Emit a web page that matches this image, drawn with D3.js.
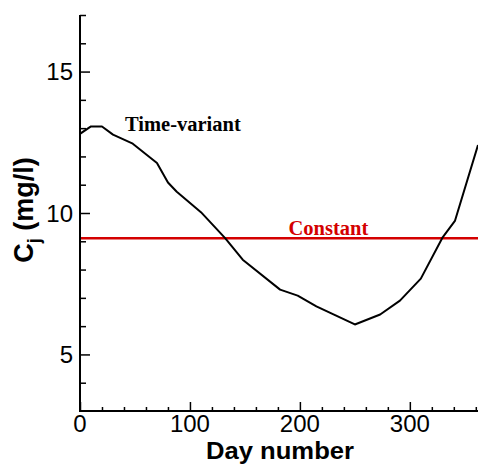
<!DOCTYPE html>
<html><head><meta charset="utf-8">
<script src="https://cdn.jsdelivr.net/npm/d3@7"></script>
<style>body{margin:0;background:#fff}svg{display:block}</style>
</head><body>
<script>
const days = [0,10,20,30,48,70,80,88,110,132,148,182,198,215,250,273,291,310,330,341,362];
const timeVariant = [12.8,13.06,13.06,12.77,12.45,11.77,11.08,10.75,10.03,9.11,8.35,7.29,7.08,6.70,6.06,6.41,6.90,7.68,9.15,9.72,12.4];
const constantValue = 9.11;
const xTicks = [0,100,200,300];
const yTicks = [5,10,15];
const labels = {x:"Day number", tv:"Time-variant", c:"Constant"};

const W=478,H=464;
const svg=d3.select("body").append("svg").attr("width",W).attr("height",H);
const x=d3.scaleLinear().domain([0,362]).range([80,478]);
const y=d3.scaleLinear().domain([3,17]).range([411,15]);

svg.append("clipPath").attr("id","c").append("rect").attr("x",80).attr("y",15).attr("width",W-80).attr("height",396);
const g=svg.append("g").attr("clip-path","url(#c)");

g.append("line").attr("x1",x(0)).attr("x2",x(362)).attr("y1",y(constantValue)).attr("y2",y(constantValue))
 .attr("stroke","#d40000").attr("stroke-width",2.5);

const line=d3.line().x((d,i)=>x(days[i])).y(d=>y(d));
g.append("path").attr("d",line(timeVariant)).attr("fill","none").attr("stroke","#000").attr("stroke-width",2).attr("stroke-linejoin","round");

// axes
svg.append("g").attr("transform","translate(80,0)").call(d3.axisRight(y).tickValues(yTicks).tickSize(10).tickFormat(""));
const yMinor=d3.range(4,18,1).filter(v=>!yTicks.includes(v));
svg.append("g").attr("transform","translate(80,0)").call(d3.axisRight(y).tickValues(yMinor).tickSize(6).tickFormat(""));
svg.append("g").attr("transform","translate(0,411)").call(d3.axisTop(x).tickValues(xTicks).tickSize(9).tickFormat(""));
const xMinor=d3.range(20,362,20).filter(v=>!xTicks.includes(v));
svg.append("g").attr("transform","translate(0,411)").call(d3.axisTop(x).tickValues(xMinor).tickSize(4).tickFormat(""));
svg.selectAll(".tick line").attr("stroke","#000").attr("stroke-width",1.5);
svg.selectAll(".domain").remove();
svg.append("line").attr("x1",80).attr("x2",80).attr("y1",y(17)).attr("y2",y(3)+1).attr("stroke","#000").attr("stroke-width",2);
svg.append("line").attr("x1",79).attr("x2",478).attr("y1",y(3)).attr("y2",y(3)).attr("stroke","#000").attr("stroke-width",2);

const sans="'Liberation Sans', Arial, sans-serif";
const serif="'Liberation Serif', 'Times New Roman', serif";
svg.selectAll(".ylab").data(yTicks).enter().append("text")
 .attr("x",73).attr("y",d=>y(d)).attr("dy","0.36em").attr("text-anchor","end")
 .attr("font-family",sans).attr("font-size",24).text(d=>d);
svg.selectAll(".xlab").data(xTicks).enter().append("text")
 .attr("x",d=>x(d)).attr("y",432).attr("text-anchor","middle")
 .attr("font-family",sans).attr("font-size",24).text(d=>d);
svg.append("text").attr("x",206).attr("y",459)
 .attr("textLength",148).attr("lengthAdjust","spacingAndGlyphs")
 .attr("font-family",sans).attr("font-weight","bold").attr("font-size",23).text(labels.x);
const yl=svg.append("text").attr("transform","translate(33,210) rotate(-90)").attr("text-anchor","middle")
 .attr("font-family",sans).attr("font-weight","bold").attr("font-size",27);
yl.append("tspan").text("C");
yl.append("tspan").attr("font-size",18).attr("dy",7).text("j");
yl.append("tspan").attr("dy",-7).text(" (mg/l)");

svg.append("text").attr("x",125).attr("y",131).attr("font-family",serif).attr("font-weight","bold").attr("font-size",20.5).text(labels.tv);
svg.append("text").attr("x",288.5).attr("y",235).attr("font-family",serif).attr("font-weight","bold").attr("font-size",20.5).attr("fill","#d40000").text(labels.c);
</script>
</body></html>
